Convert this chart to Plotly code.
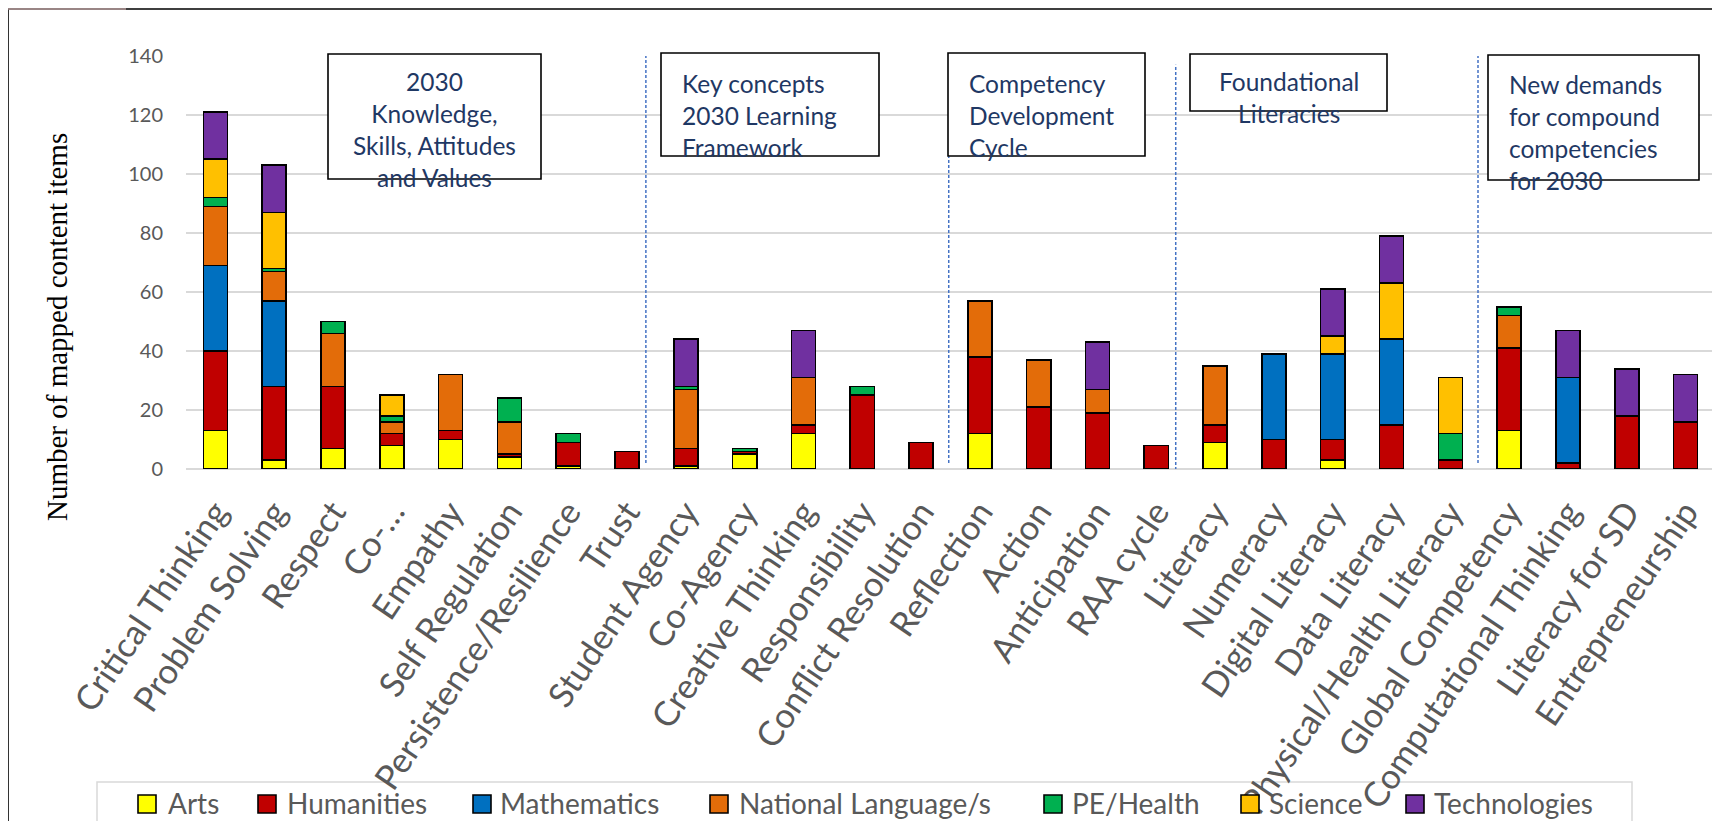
import plotly.graph_objects as go

categories = ["Critical Thinking", "Problem Solving", "Respect", "Co-…", "Empathy",
              "Self Regulation", "Persistence/Resilience", "Trust", "Student Agency",
              "Co-Agency", "Creative Thinking", "Responsibility", "Conflict Resolution",
              "Reflection", "Action", "Anticipation", "RAA cycle", "Literacy", "Numeracy",
              "Digital Literacy", "Data Literacy", "Physical/Health Literacy",
              "Global Competency", "Computational Thinking", "Literacy for SD",
              "Entrepreneurship"]

arts =        [13, 3, 7, 8, 10, 4, 1, 0, 1, 5, 12, 0, 0, 12, 0, 0, 0, 9, 0, 3, 0, 0, 13, 0, 0, 0]
humanities =  [27, 25, 21, 4, 3, 1, 8, 6, 6, 1, 3, 25, 9, 26, 21, 19, 8, 6, 10, 7, 15, 3, 28, 2, 18, 16]
mathematics = [29, 29, 0, 0, 0, 0, 0, 0, 0, 0, 0, 0, 0, 0, 0, 0, 0, 0, 29, 29, 29, 0, 0, 29, 0, 0]
national_language = [20, 10, 18, 4, 19, 11, 0, 0, 20, 0, 16, 0, 0, 19, 16, 8, 0, 20, 0, 0, 0, 0, 11, 0, 0, 0]
pe_health =   [3, 1, 4, 2, 0, 8, 3, 0, 1, 1, 0, 3, 0, 0, 0, 0, 0, 0, 0, 0, 0, 9, 3, 0, 0, 0]
science =     [13, 19, 0, 7, 0, 0, 0, 0, 0, 0, 0, 0, 0, 0, 0, 0, 0, 0, 0, 6, 19, 19, 0, 0, 0, 0]
technologies = [16, 16, 0, 0, 0, 0, 0, 0, 16, 0, 16, 0, 0, 0, 0, 16, 0, 0, 0, 16, 16, 0, 0, 16, 16, 16]

series_names = ["Arts", "Humanities", "Mathematics", "National Language/s",
                "PE/Health", "Science", "Technologies"]
series_values = [arts, humanities, mathematics, national_language, pe_health,
                 science, technologies]
series_colors = ["#FFFF00", "#C00000", "#0070C0", "#E36C09", "#00B050", "#FFC000", "#7030A0"]

box_texts = [
    ("2030<br>Knowledge,<br>Skills, Attitudes<br>and Values", "center"),
    ("Key concepts<br>2030 Learning<br>Framework", "left"),
    ("Competency<br>Development<br>Cycle", "left"),
    ("Foundational<br>Literacies", "center"),
    ("New demands<br>for compound<br>competencies<br>for 2030", "left"),
]

W, H = 1720, 821
OFF = 8  # page body margin
PL, PR, PT, PB = 186, 1715, 56, 469  # plot area in screen pixels
ML, MT = PL - OFF, PT - OFF
MR, MB = W - (PR - OFF), H - (PB - OFF)
PW, PH = PR - PL, PB - PT


def px(x):
    return (x - PL) / PW


def py(y):
    return (PB - y) / PH


fig = go.Figure()
for name, vals, col in zip(series_names, series_values, series_colors):
    fig.add_trace(go.Bar(x=categories, y=vals, name=name,
                         marker=dict(color=col, line=dict(color="black", width=1.6)),
                         showlegend=False))

shapes = []
for xc, y0, y1 in [(7.32, 2, 140.3), (12.47, 2, 106), (16.33, -2, 137), (21.47, 2, 140.7)]:
    shapes.append(dict(type="line", xref="x", yref="y", x0=xc, x1=xc, y0=y0, y1=y1,
                       line=dict(color="#4472C4", width=1.5, dash="3px,2px"),
                       layer="above"))

box_rects = [(328, 54, 541, 179), (661, 53, 879, 156), (948, 53, 1145, 156),
             (1190, 54, 1387, 111), (1488, 55, 1699, 180)]
for (x0, y0, x1, y1) in box_rects:
    shapes.append(dict(type="rect", xref="paper", yref="paper",
                       x0=px(x0), x1=px(x1), y0=py(y1), y1=py(y0),
                       fillcolor="white", line=dict(color="black", width=1.6),
                       layer="above"))

# outer chart border
shapes.append(dict(type="rect", xref="paper", yref="paper",
                   x0=px(8), x1=px(1740), y0=py(850), y1=py(9),
                   line=dict(color="black", width=1.6), fillcolor="rgba(0,0,0,0)",
                   layer="below"))
# legend frame
shapes.append(dict(type="rect", xref="paper", yref="paper",
                   x0=px(97), x1=px(1632), y0=py(860), y1=py(782),
                   line=dict(color="#D9D9D9", width=1.5), fillcolor="rgba(0,0,0,0)",
                   layer="below"))
# faint top-left line
shapes.append(dict(type="line", xref="paper", yref="paper",
                   x0=px(8), x1=px(126), y0=py(9), y1=py(9),
                   line=dict(color="#F4CCCC", width=1)))

annotations = []
text_pos = [(434.5, 129.5, "center"), (680, 115, "left"), (967, 115, "left"),
            (1288.7, 97.5, "center"), (1507, 133, "left")]
for (txt, al), (x, y, anc) in zip(box_texts, text_pos):
    annotations.append(dict(text=txt, xref="paper", yref="paper", x=px(x), y=py(y),
                            xanchor=anc, yanchor="middle", align=al, showarrow=False,
                            font=dict(family="Lato", size=24.5, color="#1F3864")))

sw_x = [138, 258, 473, 710, 1044, 1241, 1406]
tx_x = [166, 285, 498, 737, 1070, 1267, 1432]
for name, col, sx, tx in zip(series_names, series_colors, sw_x, tx_x):
    shapes.append(dict(type="rect", xref="paper", yref="paper",
                       x0=px(sx), x1=px(sx + 18), y0=py(813), y1=py(795),
                       fillcolor=col, line=dict(color="black", width=1.6)))
    annotations.append(dict(text=name, xref="paper", yref="paper", x=px(tx), y=py(803),
                            xanchor="left", yanchor="middle", showarrow=False,
                            font=dict(family="Lato", size=28, color="#595959")))

annotations.append(dict(text="Number of mapped content items", xref="paper", yref="paper",
                        x=px(57), y=py(327), textangle=-90, showarrow=False,
                        xanchor="center", yanchor="middle",
                        font=dict(family="Liberation Serif", size=29, color="black")))

fig.update_layout(
    width=W, height=H, barmode="stack", bargap=0.59,
    margin=dict(l=ML, r=MR, t=MT, b=MB, autoexpand=False),
    paper_bgcolor="white", plot_bgcolor="white",
    shapes=shapes, annotations=annotations,
    showlegend=False,
)
fig.update_yaxes(range=[0, 140], dtick=20, showgrid=True, gridcolor="#D9D9D9", gridwidth=1.5,
                 zeroline=True, zerolinecolor="#D9D9D9", zerolinewidth=1.5,
                 showline=False, ticks="", ticklabelstandoff=22,
                 tickfont=dict(family="Lato", size=20, color="#595959"))
fig.update_xaxes(tickangle=-56, showgrid=False, showline=False, ticks="",
                 ticklabelstandoff=15,
                 tickfont=dict(family="Lato", size=34.5, color="#595959"))

fig.write_html("out.html")
